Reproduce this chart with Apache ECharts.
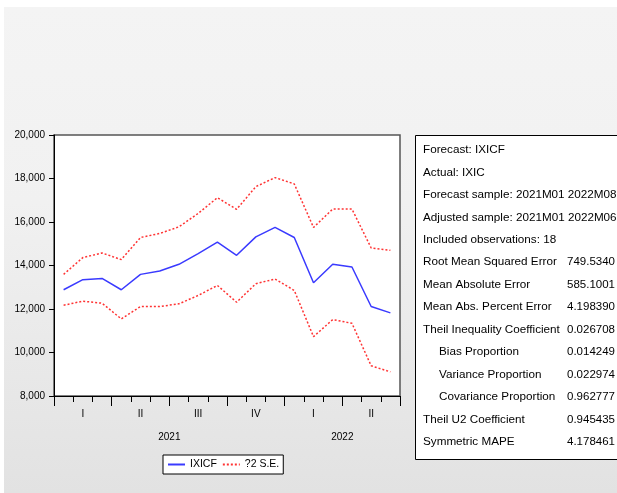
<!DOCTYPE html>
<html>
<head>
<meta charset="utf-8">
<script src="https://cdn.jsdelivr.net/npm/echarts@6/dist/echarts.min.js"></script>
<style>
html,body{margin:0;padding:0;background:#fff;}
#bg{position:absolute;left:4px;top:7px;width:613px;height:486px;background:linear-gradient(#f4f4f4 0%,#f1f1f1 40%,#e2e2e2 100%);}
#chart{position:absolute;left:0;top:0;width:617px;height:493px;}
</style>
</head>
<body>
<div id="bg"></div>
<div id="chart"></div>
<script>
const months = ['2021M01','2021M02','2021M03','2021M04','2021M05','2021M06','2021M07','2021M08','2021M09','2021M10','2021M11','2021M12','2022M01','2022M02','2022M03','2022M04','2022M05','2022M06'];
const quarters = ['I','II','III','IV','I','II'];
const yearTicks = {6:'2021', 15:'2022'};
const ixicf = [12885,13347,13407,12885,13592,13745,14054,14548,15070,14470,15315,15750,15288,13209,14054,13930,12114,11822];
const upperSE = [13592,14364,14576,14271,15288,15472,15777,16396,17117,16581,17625,18041,17750,15750,16595,16595,14807,14700];
const lowerSE = [12174,12359,12266,11545,12114,12114,12238,12622,13084,12312,13162,13380,12853,10728,11513,11342,9388,9111];
const statLabels = ['Forecast: IXICF','Actual: IXIC','Forecast sample: 2021M01 2022M08','Adjusted sample: 2021M01 2022M06','Included observations: 18','Root Mean Squared Error','Mean Absolute Error','Mean Abs. Percent Error','Theil Inequality Coefficient','Bias Proportion','Variance Proportion','Covariance Proportion','Theil U2 Coefficient','Symmetric MAPE'];
const statValues = ['','','','','','749.5340','585.1001','4.198390','0.026708','0.014249','0.022974','0.962777','0.945435','4.178461'];
const statIndent = [0,0,0,0,0,0,0,0,0,1,1,1,0,0];

const chart = echarts.init(document.getElementById('chart'));
const font = 'Liberation Sans, Arial, sans-serif';
const graphics = [{
  type:'rect', shape:{x:415.5,y:135.5,width:220,height:324}, style:{fill:'#fff',stroke:'#000',lineWidth:1}, z:1
}];
statLabels.forEach((t,i)=>{
  const y = 150 + i*22.45;
  graphics.push({type:'text', x: statIndent[i]?439:423, y:y, z:2,
    style:{text:t, fill:'#000', fontSize:11.7, fontFamily:font, verticalAlign:'middle'}});
  if (statValues[i]) graphics.push({type:'text', x:567, y:y, z:2,
    style:{text:statValues[i], fill:'#000', fontSize:11.5, fontFamily:font, verticalAlign:'middle'}});
});

chart.setOption({
  animation:false,
  textStyle:{fontFamily:font},
  grid:{left:54, top:135, right:217, bottom:97, show:true, backgroundColor:'#fff', borderColor:'#555', borderWidth:1.5},
  legend:{
    left:163, top:455, padding:[4,4], itemGap:5, itemWidth:17, itemHeight:10,
    backgroundColor:'#fff', borderColor:'#000', borderWidth:1, borderRadius:0,
    itemStyle:{opacity:0},
    textStyle:{fontSize:10.5, color:'#000', fontFamily:font},
    data:['IXICF','?2 S.E.']
  },
  xAxis:[
    {type:'category', data:months, position:'bottom', boundaryGap:true,
     axisLine:{lineStyle:{color:'#000',width:1}},
     axisTick:{show:true, interval:0, length:6, lineStyle:{color:'#000'}},
     axisLabel:{show:false}, splitLine:{show:false}},
    {type:'category', data:quarters, position:'bottom', boundaryGap:true,
     axisLine:{show:false},
     axisTick:{show:true, interval:0, length:10, lineStyle:{color:'#000'}},
     axisLabel:{show:true, interval:0, margin:13, fontSize:10, color:'#000', fontFamily:font}},
    {type:'value', min:0, max:18, interval:3, position:'bottom',
     axisLine:{show:false}, axisTick:{show:false}, splitLine:{show:false},
     axisLabel:{show:true, margin:36, fontSize:10, color:'#000', fontFamily:font,
       showMinLabel:true, showMaxLabel:true,
       formatter:(v)=>yearTicks[v]||''}}
  ],
  yAxis:{type:'value', min:8000, max:20000, interval:2000,
    axisLine:{show:true, lineStyle:{color:'#000',width:1}},
    axisTick:{show:true, length:5, lineStyle:{color:'#000'}},
    axisLabel:{margin:9, fontSize:10, color:'#000', fontFamily:font, formatter:(v)=>v.toLocaleString('en-US')},
    splitLine:{show:false}},
  series:[
    {name:'IXICF', type:'line', xAxisIndex:0, data:ixicf, symbol:'none', color:'#3a3aff', lineStyle:{width:1.5, color:'#3a3aff'}},
    {name:'?2 S.E.', type:'line', xAxisIndex:0, data:upperSE, symbol:'none', color:'#ff3333', lineStyle:{width:1.5, type:[2,2], color:'#ff3333'}},
    {name:'?2 S.E.', type:'line', xAxisIndex:0, data:lowerSE, symbol:'none', color:'#ff3333', lineStyle:{width:1.5, type:[2,2], color:'#ff3333'}}
  ],
  graphic:graphics
});
</script>
</body>
</html>
